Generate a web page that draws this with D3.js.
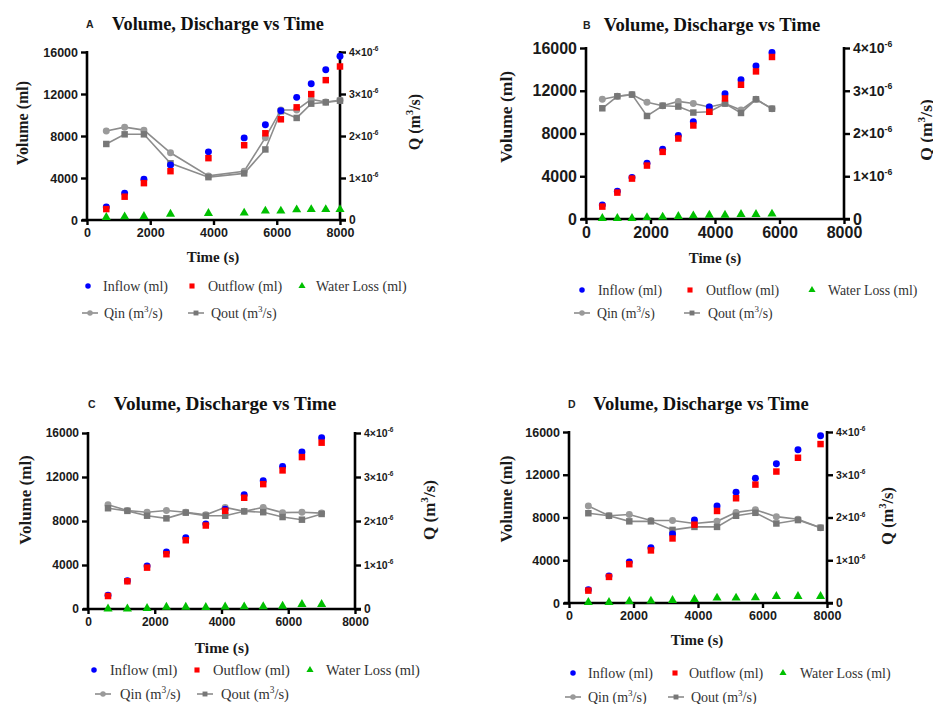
<!DOCTYPE html>
<html><head><meta charset="utf-8">
<script src="https://cdn.jsdelivr.net/npm/d3@7"></script>
<style>body{margin:0;background:#fff}svg{display:block}</style>
</head><body>
<svg id="chart" width="933" height="704"></svg>
<script>
// ---------- data ----------
const xTicks = [0, 2000, 4000, 6000, 8000];
const yTicks = [0, 4000, 8000, 12000, 16000];
const qTicks = [0, 1e-6, 2e-6, 3e-6, 4e-6];
const panelLetters = ["A", "B", "C", "D"];
const titleText = "Volume, Discharge vs Time";
const legendLabels = ["Inflow (ml)", "Outflow (ml)", "Water Loss (ml)", "Qin", "Qout"];

const timeA = [610, 1190, 1800, 2640, 3840, 4970, 5640, 6130, 6630, 7090, 7550, 8000];
const inflowA = [1230, 2560, 3890, 5250, 6490, 7820, 9080, 10410, 11680, 12970, 14300, 15600];
const outflowA = [1040, 2220, 3510, 4650, 5890, 7120, 8260, 9590, 10730, 11990, 13320, 14620];
const lossA = [250, 320, 350, 570, 630, 670, 860, 860, 980, 1010, 1010, 1010];
const qinA = [2.12e-6, 2.21e-6, 2.14e-6, 1.60e-6, 1.05e-6, 1.16e-6, 1.96e-6, 2.62e-6, 2.62e-6, 2.87e-6, 2.81e-6, 2.85e-6];
const qoutA = [1.81e-6, 2.04e-6, 2.04e-6, 1.35e-6, 1.02e-6, 1.11e-6, 1.68e-6, 2.59e-6, 2.43e-6, 2.77e-6, 2.80e-6, 2.84e-6];

const timeB = [506, 972, 1426, 1891, 2377, 2863, 3328, 3824, 4310, 4806, 5271, 5767];
const inflowB = [1310, 2590, 3875, 5220, 6530, 7810, 9090, 10470, 11720, 13030, 14310, 15590];
const outflowB = [1160, 2470, 3780, 5000, 6280, 7530, 8750, 10030, 11280, 12560, 13810, 15160];
const lossB = [60, 60, 60, 150, 190, 250, 310, 370, 370, 440, 440, 470];
const qinB = [2.80e-6, 2.87e-6, 2.91e-6, 2.73e-6, 2.65e-6, 2.75e-6, 2.70e-6, 2.62e-6, 2.70e-6, 2.55e-6, 2.80e-6, 2.58e-6];
const qoutB = [2.59e-6, 2.87e-6, 2.91e-6, 2.41e-6, 2.65e-6, 2.63e-6, 2.49e-6, 2.51e-6, 2.70e-6, 2.48e-6, 2.80e-6, 2.58e-6];

const timeC = [600, 1180, 1770, 2350, 2930, 3530, 4110, 4680, 5250, 5830, 6410, 7000];
const inflowC = [1250, 2570, 3920, 5190, 6470, 7740, 9080, 10380, 11660, 12960, 14270, 15570];
const outflowC = [1180, 2520, 3760, 4980, 6250, 7590, 8930, 10110, 11350, 12600, 13810, 15120];
const lossC = [20, 20, 60, 180, 180, 150, 200, 210, 220, 270, 420, 420];
const qinC = [2.37e-6, 2.24e-6, 2.20e-6, 2.24e-6, 2.20e-6, 2.14e-6, 2.31e-6, 2.22e-6, 2.31e-6, 2.19e-6, 2.20e-6, 2.18e-6];
const qoutC = [2.29e-6, 2.23e-6, 2.12e-6, 2.06e-6, 2.19e-6, 2.12e-6, 2.12e-6, 2.22e-6, 2.20e-6, 2.09e-6, 2.03e-6, 2.16e-6];

const timeD = [600, 1240, 1870, 2540, 3210, 3890, 4590, 5180, 5780, 6430, 7100, 7800];
const inflowD = [1250, 2540, 3850, 5170, 6450, 7760, 9080, 10360, 11680, 13020, 14340, 15650];
const outflowD = [1160, 2440, 3630, 4920, 6040, 7330, 8610, 9800, 11080, 12300, 13590, 14870];
const lossD = [60, 60, 160, 190, 250, 340, 470, 470, 500, 630, 630, 630];
const qinD = [2.27e-6, 2.04e-6, 2.07e-6, 1.93e-6, 1.93e-6, 1.86e-6, 1.91e-6, 2.12e-6, 2.18e-6, 2.02e-6, 1.96e-6, 1.76e-6];
const qoutD = [2.10e-6, 2.04e-6, 1.91e-6, 1.91e-6, 1.71e-6, 1.78e-6, 1.78e-6, 2.04e-6, 2.11e-6, 1.86e-6, 1.94e-6, 1.76e-6];

// ---------- layout ----------
const panels = [
  {letter: panelLetters[0], t: timeA, inflow: inflowA, outflow: outflowA, loss: lossA, qin: qinA, qout: qoutA,
   l: 87, r: 340, top: 52, b: 220, fs: 12.5, rfs: 10.5, titleFs: 18.3, titleCx: 218, titleY: 30, letterX: 86,
   ylab: [22, 123], qlab: [414, 122], labFs: 16, xlabY: 262, xlabCx: 213, timeFs: 15,
   leg: {y1: 286, y2: 313, fs: 14, dot: 88, t1: 103, sq: 192, t2: 208, tri: 302, t3: 316, qin: 90, t4: 104, qout: 196, t5: 211}},
  {letter: panelLetters[1], t: timeB, inflow: inflowB, outflow: outflowB, loss: lossB, qin: qinB, qout: qoutB,
   l: 586, r: 844, top: 48, b: 219, fs: 16, rfs: 14, titleFs: 18.7, titleCx: 712, titleY: 31, letterX: 583,
   ylab: [506, 117], qlab: [926, 130], labFs: 17.5, xlabY: 263, xlabCx: 715, timeFs: 15,
   leg: {y1: 290, y2: 313, fs: 13.8, dot: 582, t1: 598, sq: 690, t2: 706, tri: 812, t3: 828, qin: 582, t4: 597, qout: 692, t5: 708}},
  {letter: panelLetters[2], t: timeC, inflow: inflowC, outflow: outflowC, loss: lossC, qin: qinC, qout: qoutC,
   l: 88, r: 355, top: 433, b: 609, fs: 12, rfs: 10.5, titleFs: 19.2, titleCx: 225, titleY: 410, letterX: 88,
   ylab: [25, 500], qlab: [429, 510], labFs: 17, xlabY: 653, xlabCx: 222, timeFs: 15.5,
   leg: {y1: 670, y2: 694, fs: 14.5, dot: 94, t1: 110, sq: 197, t2: 213, tri: 310, t3: 326, qin: 103, t4: 120, qout: 205, t5: 221}},
  {letter: panelLetters[3], t: timeD, inflow: inflowD, outflow: outflowD, loss: lossD, qin: qinD, qout: qoutD,
   l: 569, r: 827, top: 432, b: 603, fs: 12.5, rfs: 10.5, titleFs: 18.6, titleCx: 701, titleY: 410, letterX: 568,
   ylab: [506, 499], qlab: [887, 516], labFs: 16.5, xlabY: 645, xlabCx: 697, timeFs: 15,
   leg: {y1: 673, y2: 697, fs: 14, dot: 573, t1: 588, sq: 675, t2: 689, tri: 783, t3: 800, qin: 573, t4: 588, qout: 676, t5: 691}}
];

const COL_IN = "#0000ff", COL_OUT = "#ff0000", COL_LOSS = "#00c000";
const COL_QIN = "#9a9a9a", COL_QOUT = "#777777", COL_LINE = "#8c8c8c";
const SANS = "'Liberation Sans', Arial, sans-serif";
const SERIF = "'Liberation Serif', 'Times New Roman', serif";

const svg = d3.select("#chart");

function styleAxis(sel, fs) {
  sel.select(".domain").attr("stroke", "#000").attr("stroke-width", 2.6);
  sel.selectAll(".tick line").attr("stroke", "#000").attr("stroke-width", 2.4);
  sel.selectAll(".tick text").attr("fill", "#1a1a1a").style("font-family", SANS)
    .style("font-weight", "bold").style("font-size", fs + "px");
}

// text with a superscript "3" in the middle: "<pre>(m³/s)"
function supText(t, pre, fs) {
  const up = fs * 0.42;
  t.append("tspan").text(pre + "(m");
  t.append("tspan").text("3").attr("dy", -up).style("font-size", (fs * 0.65) + "px");
  t.append("tspan").text("/s)").attr("dy", up);
}

const symCircle = d3.symbol().type(d3.symbolCircle).size(38);
const symSquare = d3.symbol().type(d3.symbolSquare).size(42);
const symTri = d3.symbol().type(d3.symbolTriangle).size(36);

function drawPanel(p) {
  const g = svg.append("g");
  const x = d3.scaleLinear().domain([0, 8000]).range([p.l, p.r]);
  const y = d3.scaleLinear().domain([0, 16000]).range([p.b, p.top]);
  const yq = d3.scaleLinear().domain([0, 4e-6]).range([p.b, p.top]);

  // axes
  const xa = g.append("g").attr("transform", `translate(0,${p.b})`)
    .call(d3.axisBottom(x).tickValues(xTicks).tickSize(5).tickSizeOuter(0).tickPadding(3).tickFormat(d3.format("d")));
  styleAxis(xa, p.fs);
  xa.select(".domain").attr("d", `M${p.l - 5},0H${p.r + 6}`);
  const ya = g.append("g").attr("transform", `translate(${p.l},0)`)
    .call(d3.axisLeft(y).tickValues(yTicks).tickSize(6).tickSizeOuter(0).tickPadding(3).tickFormat(d3.format("d")));
  styleAxis(ya, p.fs);
  ya.select(".domain").attr("d", `M0,${p.top - 1}V${p.b + 1}`);
  const qa = g.append("g").attr("transform", `translate(${p.r},0)`)
    .call(d3.axisRight(yq).tickValues(qTicks).tickSize(6).tickSizeOuter(0).tickPadding(3).tickFormat(() => ""));
  styleAxis(qa, p.rfs);
  qa.select(".domain").attr("d", `M0,${p.top - 1}V${p.b + 1}`);
  qa.selectAll(".tick text").each(function (d) {
    const t = d3.select(this);
    const n = Math.round(d * 1e6);
    if (n === 0) { t.text("0").style("font-size", (p.rfs * 1.15) + "px"); return; }
    t.append("tspan").text(n + "×10");
    t.append("tspan").text("-6").attr("dy", -p.rfs * 0.45).style("font-size", (p.rfs * 0.62) + "px");
  });

  // Q lines + markers
  const line = d3.line().x(d => x(d[0])).y(d => yq(d[1]));
  const qinPts = p.t.map((t, i) => [t, p.qin[i]]);
  const qoutPts = p.t.map((t, i) => [t, p.qout[i]]);
  g.append("path").attr("d", line(qinPts)).attr("fill", "none").attr("stroke", COL_LINE).attr("stroke-width", 1.6);
  g.append("path").attr("d", line(qoutPts)).attr("fill", "none").attr("stroke", COL_LINE).attr("stroke-width", 1.6);
  g.selectAll(null).data(qinPts).join("path").attr("d", symCircle)
    .attr("transform", d => `translate(${x(d[0])},${yq(d[1])})`).attr("fill", COL_QIN);
  g.selectAll(null).data(qoutPts).join("path").attr("d", symSquare)
    .attr("transform", d => `translate(${x(d[0])},${yq(d[1])})`).attr("fill", COL_QOUT);

  // volume scatter
  g.selectAll(null).data(p.t.map((t, i) => [t, p.inflow[i]])).join("path").attr("d", symCircle)
    .attr("transform", d => `translate(${x(d[0])},${y(d[1])})`).attr("fill", COL_IN);
  g.selectAll(null).data(p.t.map((t, i) => [t, p.outflow[i]])).join("path").attr("d", symSquare)
    .attr("transform", d => `translate(${x(d[0])},${y(d[1])})`).attr("fill", COL_OUT);
  g.selectAll(null).data(p.t.map((t, i) => [t, p.loss[i]])).join("path").attr("d", symTri)
    .attr("transform", d => `translate(${x(d[0])},${y(d[1])})`).attr("fill", COL_LOSS);

  // titles
  g.append("text").attr("x", p.letterX).attr("y", p.titleY - 2).text(p.letter)
    .style("font-family", SANS).style("font-weight", "bold").style("font-size", "10.5px").attr("fill", "#222");
  g.append("text").attr("x", p.titleCx).attr("y", p.titleY).attr("text-anchor", "middle").text(titleText)
    .style("font-family", SERIF).style("font-weight", "bold").style("font-size", p.titleFs + "px").attr("fill", "#111");

  g.append("text").attr("transform", `translate(${p.ylab[0]},${p.ylab[1]}) rotate(-90)`)
    .attr("text-anchor", "middle").attr("dy", "0.35em").text("Volume (ml)")
    .style("font-family", SERIF).style("font-weight", "bold").style("font-size", p.labFs + "px").attr("fill", "#1a1a1a");
  const ql = g.append("text").attr("transform", `translate(${p.qlab[0]},${p.qlab[1]}) rotate(-90)`)
    .attr("text-anchor", "middle").attr("dy", "0.35em")
    .style("font-family", SERIF).style("font-weight", "bold").style("font-size", p.labFs + "px").attr("fill", "#1a1a1a");
  supText(ql, "Q ", p.labFs);

  g.append("text").attr("x", p.xlabCx).attr("y", p.xlabY).attr("text-anchor", "middle").text("Time (s)")
    .style("font-family", SERIF).style("font-weight", "bold").style("font-size", p.timeFs + "px").attr("fill", "#1a1a1a");

  // legend
  const L = p.leg;
  const lg = g.append("g").style("font-family", SERIF).style("font-size", L.fs + "px").attr("fill", "#333");
  const sym = (s, cx, cy, col) => lg.append("path").attr("d", s).attr("transform", `translate(${cx},${cy})`).attr("fill", col);
  const txt = (tx, ty) => lg.append("text").attr("x", tx).attr("y", ty + L.fs * 0.33);
  sym(d3.symbol().type(d3.symbolCircle).size(24)(), L.dot, L.y1, COL_IN);
  txt(L.t1, L.y1).text(legendLabels[0]);
  sym(d3.symbol().type(d3.symbolSquare).size(26)(), L.sq, L.y1, COL_OUT);
  txt(L.t2, L.y1).text(legendLabels[1]);
  sym(d3.symbol().type(d3.symbolTriangle).size(22)(), L.tri, L.y1, COL_LOSS);
  txt(L.t3, L.y1).text(legendLabels[2]);
  [[L.qin, L.t4, legendLabels[3], d3.symbolCircle, COL_QIN], [L.qout, L.t5, legendLabels[4], d3.symbolSquare, COL_QOUT]]
    .forEach(([cx, tx, lab, st, col]) => {
      lg.append("line").attr("x1", cx - 8).attr("x2", cx + 8).attr("y1", L.y2).attr("y2", L.y2)
        .attr("stroke", COL_LINE).attr("stroke-width", 1.6);
      sym(d3.symbol().type(st).size(24)(), cx, L.y2, col);
      supText(txt(tx, L.y2), lab + " ", L.fs);
    });
}

panels.forEach(drawPanel);
</script>
</body></html>
